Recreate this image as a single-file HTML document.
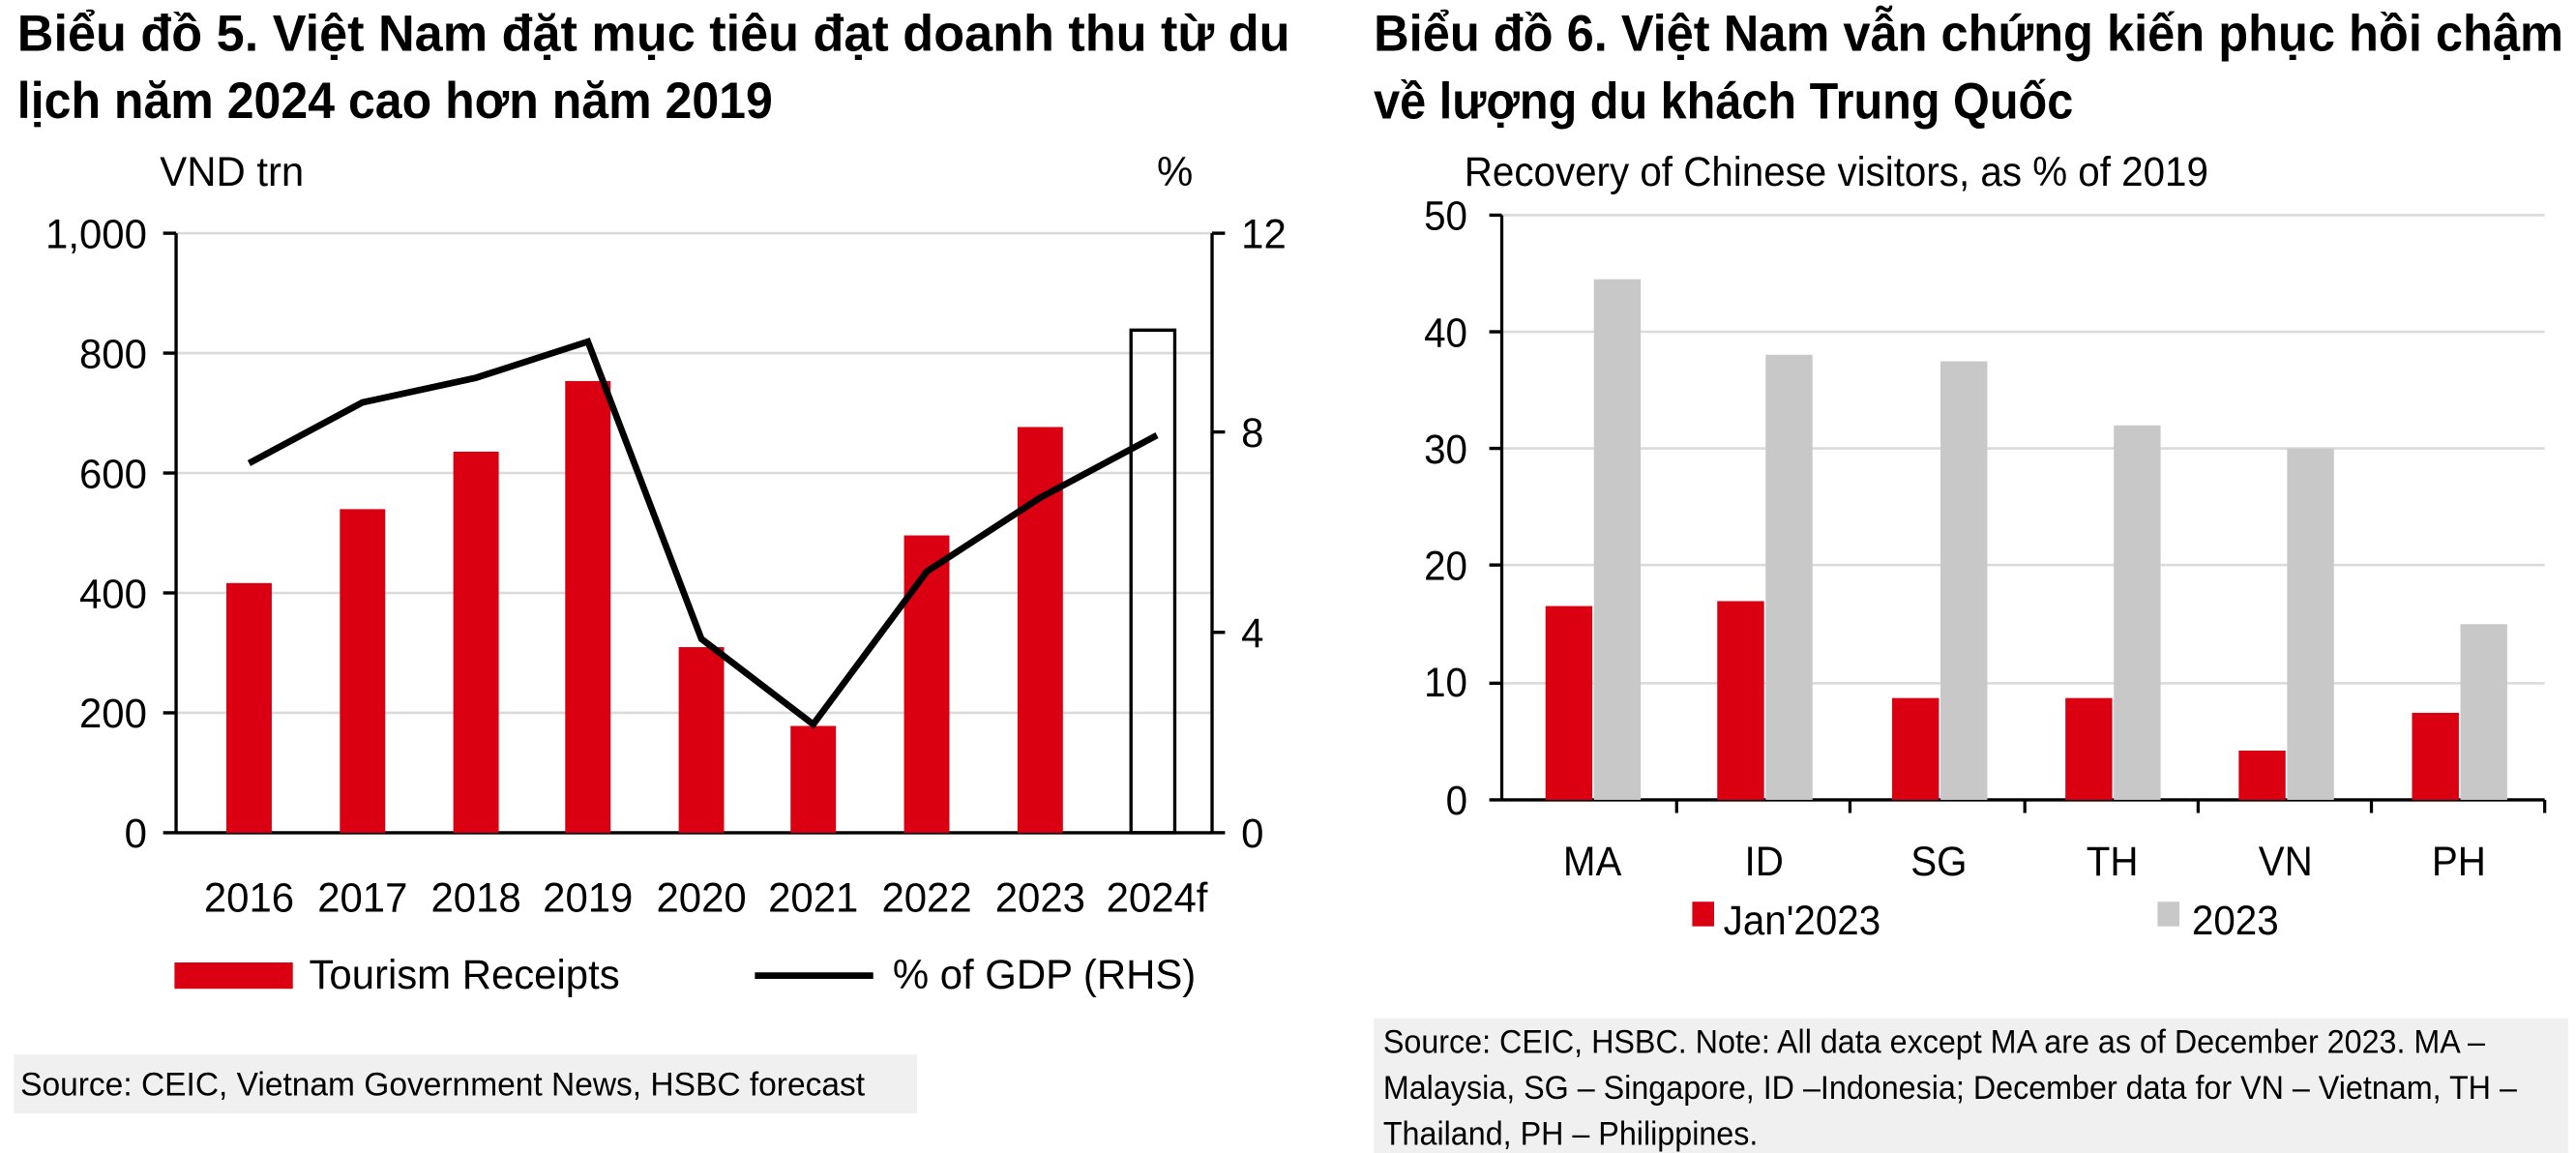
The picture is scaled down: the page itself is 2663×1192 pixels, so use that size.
<!DOCTYPE html>
<html><head><meta charset="utf-8"><style>
body{margin:0;background:#fff;width:2663px;height:1192px;overflow:hidden;font-family:"Liberation Sans",sans-serif}
svg{display:block}
</style></head><body>
<svg width="2663" height="1192" viewBox="0 0 2663 1192" xmlns="http://www.w3.org/2000/svg" font-family="Liberation Sans, sans-serif">
<!-- LEFT CHART -->
<g transform="matrix(1.676 0 0 1.698 17.8 0)">
<g font-weight="bold" fill="#000" font-size="31">
<text x="0" y="31" textLength="785" lengthAdjust="spacingAndGlyphs">Biểu đồ 5. Việt Nam đặt mục tiêu đạt doanh thu từ du</text>
<text x="0" y="72" textLength="466" lengthAdjust="spacingAndGlyphs">lịch năm 2024 cao hơn năm 2019</text>
</g>
<g stroke="#dadada" stroke-width="1.5">
<line x1="98" y1="142" x2="737" y2="142"/><line x1="98" y1="215" x2="737" y2="215"/><line x1="98" y1="288" x2="737" y2="288"/>
<line x1="98" y1="361" x2="737" y2="361"/><line x1="98" y1="434" x2="737" y2="434"/>
</g>
<g font-size="25" fill="#000">
<text x="88" y="113">VND trn</text>
<text x="703" y="113">%</text>
<g text-anchor="end">
<text x="80" y="151">1,000</text><text x="80" y="224">800</text><text x="80" y="297">600</text>
<text x="80" y="370">400</text><text x="80" y="443">200</text><text x="80" y="516">0</text>
</g>
<text x="755" y="151">12</text><text x="755" y="272">8</text><text x="755" y="394">4</text><text x="755" y="516">0</text>
<g text-anchor="middle">
<text x="143" y="555">2016</text><text x="213" y="555">2017</text><text x="283" y="555">2018</text>
<text x="352" y="555">2019</text><text x="422" y="555">2020</text><text x="491" y="555">2021</text>
<text x="561" y="555">2022</text><text x="631" y="555">2023</text><text x="703" y="555">2024f</text>
</g>
<text x="180" y="602">Tourism Receipts</text>
<text x="540" y="602">% of GDP (RHS)</text>
</g>
<rect x="97" y="586" width="73" height="16" fill="#db0011"/>
<line x1="455" y1="594" x2="528" y2="594" stroke="#000" stroke-width="4"/>
<g stroke="#000" stroke-width="2">
<line x1="98" y1="142" x2="98" y2="507"/><line x1="737" y1="142" x2="737" y2="507"/>
<line x1="98" y1="507" x2="737" y2="507"/>
<line x1="90" y1="142" x2="98" y2="142"/><line x1="90" y1="215" x2="98" y2="215"/><line x1="90" y1="288" x2="98" y2="288"/>
<line x1="90" y1="361" x2="98" y2="361"/><line x1="90" y1="434" x2="98" y2="434"/><line x1="90" y1="507" x2="98" y2="507"/>
<line x1="737" y1="142" x2="745" y2="142"/><line x1="737" y1="263" x2="745" y2="263"/><line x1="737" y1="385" x2="745" y2="385"/><line x1="737" y1="507" x2="745" y2="507"/>
</g>
<g fill="#db0011">
<rect x="129" y="355" width="28" height="152"/><rect x="199" y="310" width="28" height="197"/>
<rect x="269" y="275" width="28" height="232"/><rect x="338" y="232" width="28" height="275"/>
<rect x="408" y="394" width="28" height="113"/><rect x="477" y="442" width="28" height="65"/>
<rect x="547" y="326" width="28" height="181"/><rect x="617" y="260" width="28" height="247"/>
</g>
<rect x="687" y="201" width="27" height="306" fill="none" stroke="#000" stroke-width="2"/>
<polyline points="143,282 213,245 283,230 352,208 422,389 491,441 561,348 631,303 703,265" fill="none" stroke="#000" stroke-width="4"/>
<rect x="-2" y="642" width="557" height="36" fill="#f0f0f0"/>
<text x="2" y="667" font-size="20">Source: CEIC, Vietnam Government News, HSBC forecast</text>
</g>
<!-- RIGHT CHART -->
<g transform="matrix(1.614 0 0 1.698 87 0)">
<g font-weight="bold" fill="#000" font-size="31">
<text x="826" y="31" textLength="762" lengthAdjust="spacingAndGlyphs">Biểu đồ 6. Việt Nam vẫn chứng kiến phục hồi chậm</text>
<text x="826" y="72" textLength="448" lengthAdjust="spacingAndGlyphs">về lượng du khách Trung Quốc</text>
</g>
<g stroke="#dadada" stroke-width="1.5">
<line x1="908" y1="131" x2="1576" y2="131"/><line x1="908" y1="202" x2="1576" y2="202"/><line x1="908" y1="273" x2="1576" y2="273"/>
<line x1="908" y1="344" x2="1576" y2="344"/><line x1="908" y1="416" x2="1576" y2="416"/>
</g>
<g font-size="25" fill="#000">
<text x="884" y="113">Recovery of Chinese  visitors,  as % of 2019</text>
<g text-anchor="end">
<text x="886" y="140">50</text><text x="886" y="211">40</text><text x="886" y="282">30</text>
<text x="886" y="353">20</text><text x="886" y="424">10</text><text x="886" y="496">0</text>
</g>
<g text-anchor="middle">
<text x="966" y="533">MA</text><text x="1076" y="533">ID</text><text x="1188" y="533">SG</text>
<text x="1299" y="533">TH</text><text x="1410" y="533">VN</text><text x="1521" y="533">PH</text>
</g>
<text x="1050" y="569">Jan'2023</text><text x="1350" y="569">2023</text>
</g>
<rect x="1030" y="549" width="14" height="15" fill="#db0011"/>
<rect x="1328" y="549" width="14" height="15" fill="#c8c8c8"/>
<g stroke="#000" stroke-width="2">
<line x1="908" y1="131" x2="908" y2="487"/><line x1="908" y1="487" x2="1576" y2="487"/>
<line x1="900" y1="131" x2="908" y2="131"/><line x1="900" y1="202" x2="908" y2="202"/><line x1="900" y1="273" x2="908" y2="273"/>
<line x1="900" y1="344" x2="908" y2="344"/><line x1="900" y1="416" x2="908" y2="416"/><line x1="900" y1="487" x2="908" y2="487"/>
<line x1="1020" y1="487" x2="1020" y2="495"/><line x1="1131" y1="487" x2="1131" y2="495"/><line x1="1243" y1="487" x2="1243" y2="495"/>
<line x1="1354" y1="487" x2="1354" y2="495"/><line x1="1465" y1="487" x2="1465" y2="495"/><line x1="1576" y1="487" x2="1576" y2="495"/>
</g>
<g fill="#db0011">
<rect x="936" y="369" width="30" height="118"/><rect x="1046" y="366" width="30" height="121"/>
<rect x="1158" y="425" width="30" height="62"/><rect x="1269" y="425" width="30" height="62"/>
<rect x="1380" y="457" width="30" height="30"/><rect x="1491" y="434" width="30" height="53"/>
</g>
<g fill="#c8c8c8">
<rect x="967" y="170" width="30" height="317"/><rect x="1077" y="216" width="30" height="271"/>
<rect x="1189" y="220" width="30" height="267"/><rect x="1300" y="259" width="30" height="228"/>
<rect x="1411" y="273" width="30" height="214"/><rect x="1522" y="380" width="30" height="107"/>
</g>
<rect x="826" y="620" width="765" height="82" fill="#f0f0f0"/>
<g font-size="20">
<text x="832" y="641">Source: CEIC, HSBC. Note: All data except MA are as of December 2023. MA –</text>
<text x="832" y="669">Malaysia, SG – Singapore, ID –Indonesia; December data for VN – Vietnam, TH –</text>
<text x="832" y="697">Thailand, PH – Philippines.</text>
</g>
</g>
</svg>
</body></html>
